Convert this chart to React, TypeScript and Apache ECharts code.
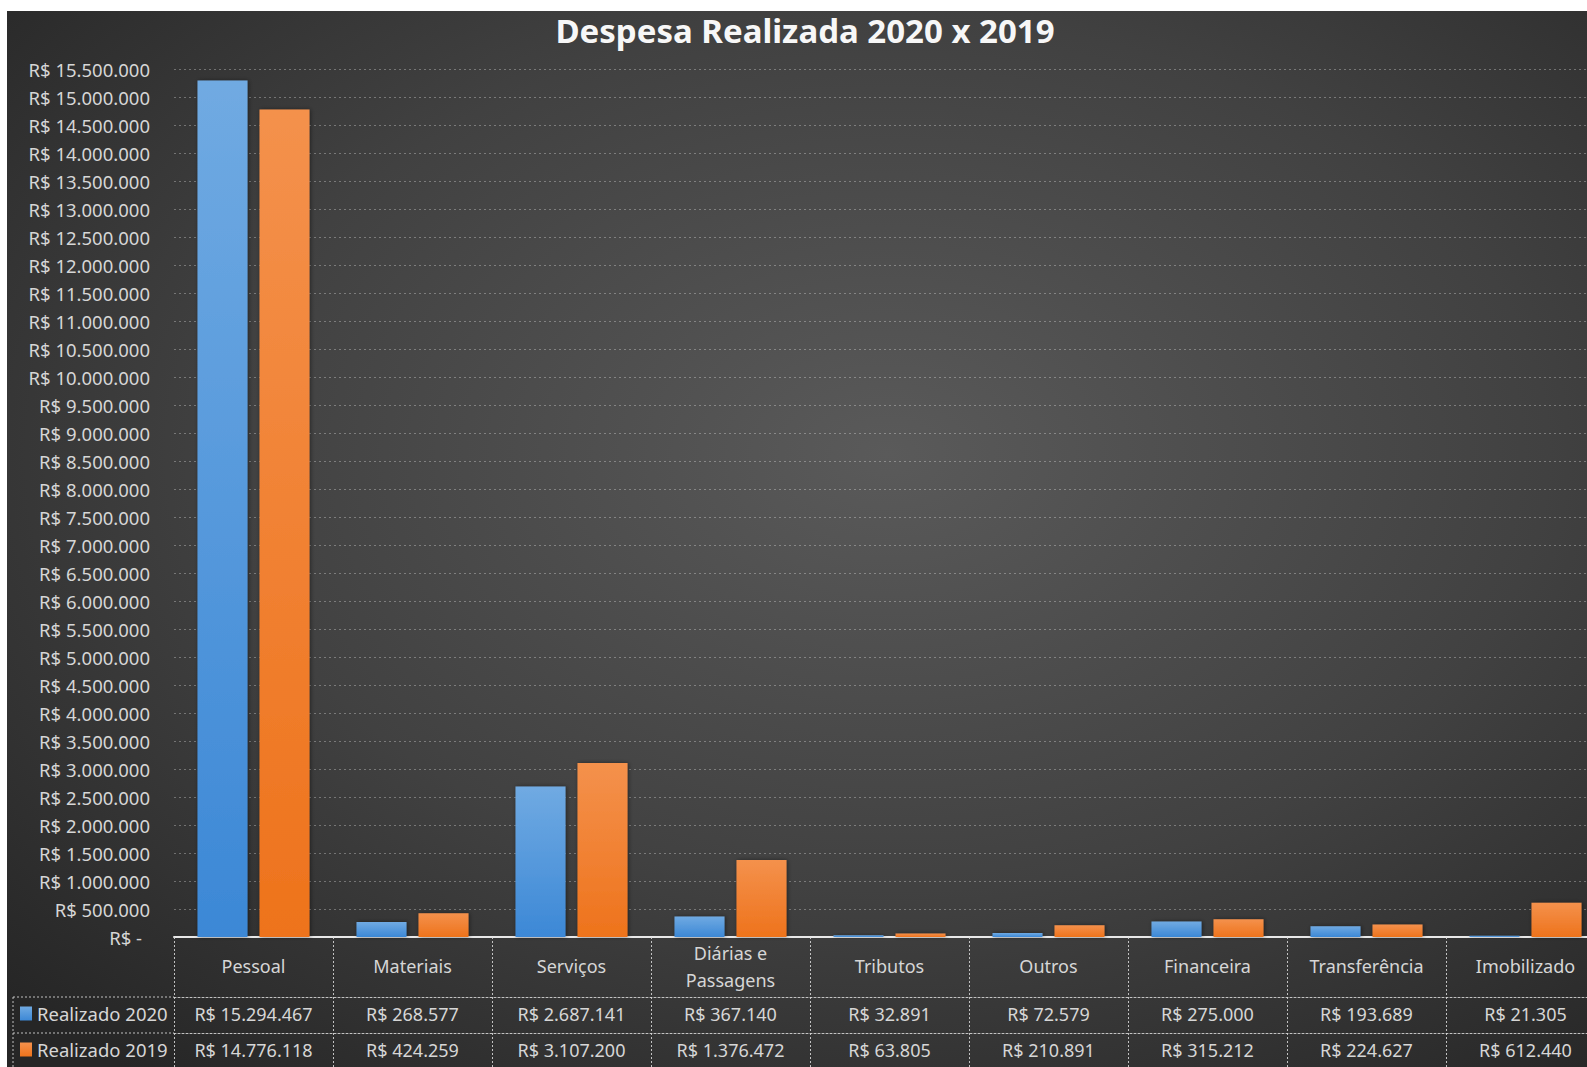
import React, { useEffect, useRef } from "react";
import * as echarts from "echarts";

const title = "Despesa Realizada 2020 x 2019";
const categories = ["Pessoal", "Materiais", "Serviços", "Diárias e\nPassagens", "Tributos", "Outros", "Financeira", "Transferência", "Imobilizado"];
const seriesNames = ["Realizado 2020", "Realizado 2019"];
const values2020 = [15294467, 268577, 2687141, 367140, 32891, 72579, 275000, 193689, 21305];
const values2019 = [14776118, 424259, 3107200, 1376472, 63805, 210891, 315212, 224627, 612440];
const yMin = 0;
const yMax = 15500000;
const yStep = 500000;

const fmt = (v: number) => "R$ " + String(Math.round(v)).replace(/\B(?=(\d{3})+(?!\d))/g, ".");

const FONT = "'Noto Sans', sans-serif";
const TXT = "#d6d6d6";
const BORDER = "rgba(220,220,220,0.85)";

export default function App() {
  const ref = useRef<HTMLDivElement>(null);
  useEffect(() => {
    if (!ref.current) return;
    const chart = echarts.init(ref.current, undefined, { renderer: "svg" });
    const tableAxis = (data: string[], offset: number, margin: number, tickLen: number, lineSolid: boolean) => ({
      type: "category",
      gridIndex: 0,
      position: "bottom",
      offset,
      data,
      axisLine: { show: true, lineStyle: lineSolid ? { color: "#e8e8e8", width: 2 } : { color: BORDER, width: 1, type: [2, 2] } },
      axisTick: { show: true, interval: 0, length: tickLen, lineStyle: { color: BORDER, width: 1, type: [2, 2] } },
      axisLabel: { interval: 0, margin, verticalAlign: "middle", color: TXT, fontSize: 18, fontFamily: FONT, lineHeight: 27 },
      splitLine: { show: false },
    });
    const barGrad = (top: string, bottom: string) => new echarts.graphic.LinearGradient(0, 0, 0, 1, [
      { offset: 0, color: top },
      { offset: 1, color: bottom },
    ]);
    const legendItem = (name: string, top: number) => ({
      data: [name],
      orient: "vertical",
      left: 13,
      top,
      padding: 0,
      itemWidth: 12,
      itemHeight: 14,
      icon: "rect",
      textStyle: { color: TXT, fontSize: 18.5, fontFamily: FONT },
    });
    chart.setOption({
      animation: false,
      backgroundColor: {
        type: "radial", x: 0.55, y: 0.42, r: 0.75,
        colorStops: [
          { offset: 0, color: "#5a5a5a" },
          { offset: 0.55, color: "#414141" },
          { offset: 1, color: "#262626" },
        ],
      },
      title: {
        text: title,
        left: 793,
        top: 0,
        padding: [3, 5, 5, 5],
        textAlign: "center",
        textStyle: { color: "#f7f7f7", fontSize: 33, fontWeight: "bold", fontFamily: FONT },
      },
      legend: [legendItem(seriesNames[0], 993), legendItem(seriesNames[1], 1029)],
      grid: { left: 167, right: 3, top: 58, bottom: 130, containLabel: false },
      xAxis: [
        tableAxis(categories, 0, 29, 60, true),
        tableAxis(values2020.map(fmt), 60, 17, 36, false),
        tableAxis(values2019.map(fmt), 96, 17, 36, false),
      ],
      yAxis: {
        type: "value",
        min: yMin,
        max: yMax,
        interval: yStep,
        axisLine: { show: false },
        axisTick: { show: false },
        axisLabel: {
          margin: 24,
          color: TXT,
          fontSize: 18.5,
          fontFamily: FONT,
          formatter: (v: number) => (v === 0 ? "{z|R$ -}" : fmt(v)),
          rich: { z: { color: TXT, fontSize: 18.5, fontFamily: FONT, padding: [0, 8, 0, 0] } },
        },
        splitLine: { show: true, lineStyle: { color: "rgba(255,255,255,0.3)", width: 1, type: [2, 3] } },
      },
      graphic: [
        { type: "line", shape: { x1: 6, y1: 986, x2: 167, y2: 986 }, style: { stroke: BORDER, lineWidth: 1, lineDash: [2, 2] } },
        { type: "line", shape: { x1: 6, y1: 1022, x2: 167, y2: 1022 }, style: { stroke: BORDER, lineWidth: 1, lineDash: [2, 2] } },
        { type: "line", shape: { x1: 6, y1: 986, x2: 6, y2: 1056 }, style: { stroke: BORDER, lineWidth: 1, lineDash: [2, 2] } },
      ],
      series: [
        {
          name: seriesNames[0],
          type: "bar",
          xAxisIndex: 0,
          data: values2020,
          barWidth: 50,
          barGap: "24%",
          itemStyle: { color: barGrad("#70aae2", "#3c88d6"), shadowBlur: 4, shadowColor: "rgba(0,0,0,0.45)", shadowOffsetX: 1 },
        },
        {
          name: seriesNames[1],
          type: "bar",
          xAxisIndex: 0,
          data: values2019,
          barWidth: 50,
          barGap: "24%",
          itemStyle: { color: barGrad("#f4914c", "#ee731c"), shadowBlur: 4, shadowColor: "rgba(0,0,0,0.45)", shadowOffsetX: 1 },
        },
      ],
    });
    return () => chart.dispose();
  }, []);
  return (
    <div style={{ position: "fixed", left: 0, top: 0, width: 1587, height: 1067, background: "#fff", overflow: "hidden" }}>
      <div ref={ref} style={{ position: "absolute", left: 7, top: 11, width: 1601, height: 1056 }} />
    </div>
  );
}
